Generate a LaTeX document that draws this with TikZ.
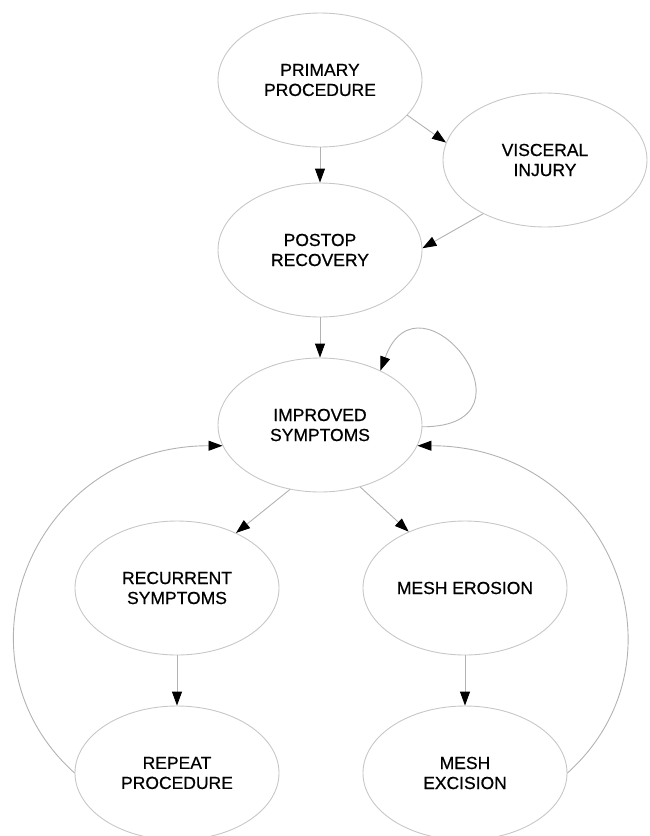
\documentclass[tikz,border=0pt]{standalone}
\usepackage{fontspec}
\setmainfont{Liberation Sans}
\usetikzlibrary{shapes.geometric,arrows.meta}
\tikzstyle{every node}=[font=\fontsize{17.5}{20}\selectfont\addfontfeature{FakeBold=0.6}]
\tikzstyle{every path}=[line width=0.9pt,line cap=round,line join=round]
\tikzstyle{stage}=[draw=black!22,ellipse,minimum width=204pt,minimum height=134pt,inner sep=0pt,align=center]
\tikzstyle{flow}=[draw=black!30,-{Triangle[length=14pt,width=10pt,color=black]}]

\begin{document}
\begin{tikzpicture}[x=1pt,y=-1pt]
  \useasboundingbox (0,0) rectangle (650,836);
  \node[stage] (prim) at (320,80) {PRIMARY\\PROCEDURE};
  \node[stage] (visc) at (545,160) {VISCERAL\\INJURY};
  \node[stage] (post) at (320,250) {POSTOP\\RECOVERY};
  \node[stage] (impr) at (320,425) {IMPROVED\\SYMPTOMS};
  \node[stage] (recur) at (177,588) {RECURRENT\\SYMPTOMS};
  \node[stage] (erosion) at (465,588) {MESH EROSION};
  \node[stage] (repeat) at (177,773) {REPEAT\\PROCEDURE};
  \node[stage] (excis) at (465,773) {MESH\\EXCISION};
  \draw[flow] (prim) -- (post);
  \draw[flow] (prim.-22) -- (visc.170);
  \draw[flow] (visc.-139) -- (post.1);
  \draw[flow] (post) -- (impr);
  \draw[flow] (impr.-1) to[out=0,in=70,out distance=125pt,in distance=115pt] (impr.42);
  \draw[flow] (impr.-115) -- (recur.43);
  \draw[flow] (impr.-57) -- (erosion.135);
  \draw[flow] (recur) -- (repeat);
  \draw[flow] (erosion) -- (excis);
  \draw[flow] (repeat.180) to[out=138,in=180,out distance=172pt,in distance=190pt] (impr.-168);
  \draw[flow] (excis.0) to[out=42,in=0,out distance=172pt,in distance=190pt] (impr.-12);
\end{tikzpicture}
\end{document}
